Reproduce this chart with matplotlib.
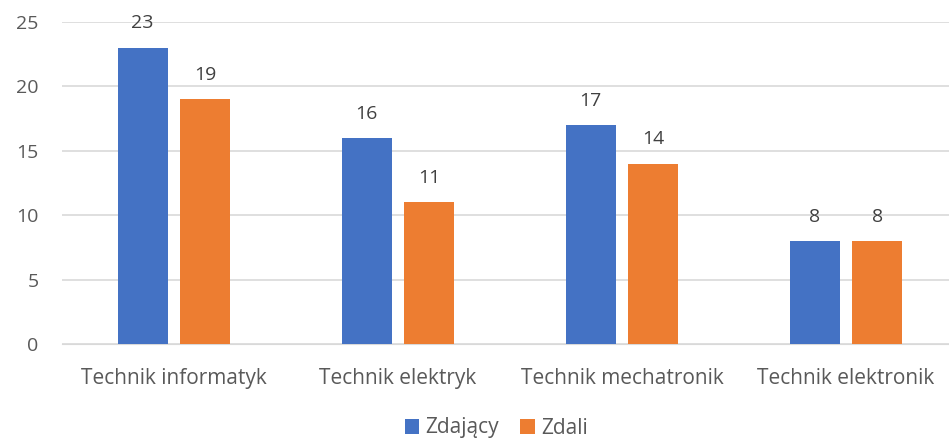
import matplotlib
matplotlib.use("Agg")
import matplotlib.pyplot as plt
import numpy as np

categories = ["Technik informatyk", "Technik elektryk", "Technik mechatronik", "Technik elektronik"]
zdajacy = [23, 16, 17, 8]
zdali = [19, 11, 14, 8]
series_names = ["Zdający", "Zdali"]

blue = "#4472C4"
orange = "#ED7D31"

plt.rcParams['font.family'] = ['Open Sans', 'DejaVu Sans']
fig = plt.figure(figsize=(9.49, 4.41), dpi=100)
ax = fig.add_axes([62/949, 1-344/441, 1-62/949, (344-22)/441])

x = np.arange(len(categories))
w = 0.223
off = 0.14
b1 = ax.bar(x - off, zdajacy, w, color=blue, label=series_names[0], zorder=3)
b2 = ax.bar(x + off, zdali, w, color=orange, label=series_names[1], zorder=3)
for bars in (b1, b2):
    for r in bars:
        ax.annotate(f"{int(r.get_height())}", (r.get_x() + r.get_width()/2, r.get_height()),
                    xytext=(0, 11), textcoords="offset points", ha="center", va="bottom",
                    fontsize=14, color="#404040")

ax.set_xlim(-0.5, 3.46)
ax.set_ylim(0, 25)
ax.set_yticks([0, 5, 10, 15, 20, 25])
ax.set_xticks(x)
ax.set_xticklabels(categories)
ax.yaxis.grid(True, color="#D9D9D9", linewidth=1.2, zorder=0)
for s in ["top", "right", "left"]:
    ax.spines[s].set_visible(False)
ax.spines["bottom"].set_color("#D9D9D9")
ax.tick_params(axis="y", length=0, labelsize=14, labelcolor="#595959", pad=17)
ax.tick_params(axis="x", length=0, labelsize=15, labelcolor="#595959", pad=17)

fig.legend(handles=[b1, b2], labels=series_names, loc="center", bbox_to_anchor=(0.523, 1-428/441),
           ncol=2, frameon=False, fontsize=15, handlelength=0.7, handleheight=0.7,
           columnspacing=1.0, handletextpad=0.3, labelcolor="#595959")

fig.savefig("out.png", dpi=100)
